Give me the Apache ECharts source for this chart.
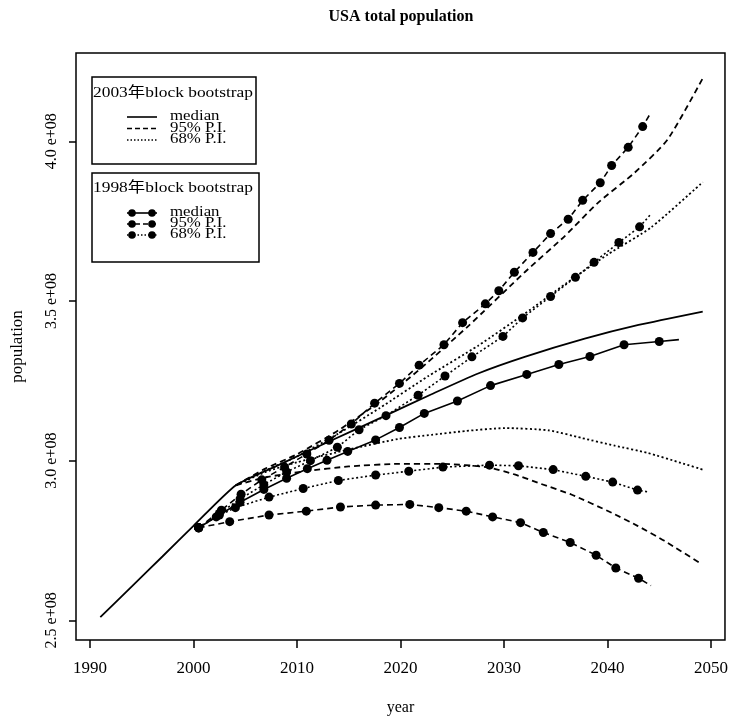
<!DOCTYPE html>
<html>
<head>
<meta charset="utf-8">
<script src="https://cdn.jsdelivr.net/npm/echarts@6/dist/echarts.min.js"></script>
<style>
  html, body { margin: 0; padding: 0; background: #fff; }
  #chart { width: 731px; height: 721px; }
</style>
</head>
<body>
<div id="chart"></div>
<script>
// Population in millions, [year, value]

// 2003 block bootstrap (solid median includes the observed history up to 2004)
const med03 = [[1991,251],[1994,260.5],[1997,270],[2000,279.6],[2004.1,292.3],[2008,298.3],[2013.1,306],[2018.55,314.1],[2023,320.8],[2027.5,327.3],[2032,332.5],[2037.8,338.2],[2043,342.5],[2049.2,346.7]];
const up95_03 = [[2004.1,292.3],[2007,297.6],[2010,302],[2014,309.5],[2018,318.5],[2022,329],[2026.6,342.3],[2032,359],[2035.9,370.4],[2039.1,380.8],[2042.6,390.1],[2045.8,400.5],[2049.2,419.7]];
const lo95_03 = [[2004.1,292.3],[2007,294.8],[2010.85,296.7],[2015,298.2],[2019.8,299],[2024,299],[2028.5,297.9],[2031.1,295.6],[2033.6,292.7],[2036.5,289.4],[2040.4,283.7],[2042.9,279.6],[2045.5,274.9],[2049.1,267.6]];
const up68_03 = [[2004.1,292.3],[2007,297],[2010,301.3],[2014,308.5],[2018,316.5],[2022.7,326.5],[2027.5,336],[2032,346],[2036,355.5],[2040,364.5],[2044.2,373],[2049.2,387.2]];
const lo68_03 = [[2004.1,292.3],[2007,296.5],[2010,299.5],[2015,303.5],[2019.8,306.8],[2023,308.1],[2026.3,309.3],[2030.1,310.2],[2034.3,309.5],[2037.5,307.1],[2040.7,304.7],[2043.9,302.4],[2047.1,299.3],[2049.2,297.2]];

// 1998 block bootstrap (dotted points; the last entry of each is the line end without a dot)
const med98 = [[2000.5,279],[2002.5,283],[2004.5,287],[2006.8,291],[2009,294.5],[2011,297.5],[2012.9,300.1],[2014.9,302.9],[2017.6,306.5],[2019.9,310.4],[2022.3,314.8],[2025.5,318.7],[2028.7,323.5],[2032.2,327],[2035.3,330.1],[2038.3,332.6],[2041.6,336.3],[2045,337.3],[2046.9,337.9]];
const up95_98 = [[2000.5,279],[2002.7,284.5],[2004.6,289.5],[2006.6,294],[2008.8,298],[2010.95,302.1],[2013.1,306.4],[2015.25,311.5],[2017.5,318],[2019.9,324.2],[2021.8,329.9],[2024.2,336.3],[2026,343.2],[2028.2,349.1],[2029.5,353.2],[2031,359],[2032.8,365.2],[2034.5,371.1],[2036.2,375.6],[2037.6,381.5],[2039.3,387],[2040.4,392.4],[2042,398.1],[2043.4,404.6],[2044.2,409]];
const lo95_98 = [[2000.5,279],[2003.5,280.9],[2007.3,283],[2010.9,284.2],[2014.2,285.5],[2017.6,286.1],[2020.9,286.3],[2023.7,285.3],[2026.35,284.2],[2028.9,282.4],[2031.6,280.6],[2033.8,277.5],[2036.4,274.4],[2038.9,270.4],[2040.8,266.4],[2043,263.2],[2044.2,260.9]];
const up68_98 = [[2000.5,279],[2002.5,283.5],[2004.5,288],[2006.8,292.5],[2009,296.5],[2011.3,300],[2013.9,304.2],[2016,309.7],[2018.6,314.1],[2021.7,320.5],[2024.3,326.5],[2026.9,332.5],[2029.9,338.9],[2031.8,344.7],[2034.5,351.4],[2036.9,357.4],[2038.7,362.1],[2041.1,368.3],[2043.1,373.2],[2044.2,377.2]];
const lo68_98 = [[2000.5,279],[2002.2,282.4],[2004.05,285.3],[2007.3,288.6],[2010.6,291.3],[2014,293.8],[2017.6,295.5],[2020.8,296.7],[2024.1,298],[2028.6,298.6],[2031.4,298.4],[2034.75,297.2],[2037.9,295.1],[2040.5,293.3],[2042.9,290.8],[2044,290.2]];

const xTicks = [1990, 2000, 2010, 2020, 2030, 2040, 2050];
const yTicks = [250, 300, 350, 400];

const SERIF = "'Liberation Serif', 'Noto Sans CJK TC', serif";
const DASH = [6, 4];
const DOT = [2, 2.5];

function curve(name, data, type) {
  return {
    name, type: 'line', data, smooth: 0.2, symbol: 'none', silent: true,
    lineStyle: { color: '#000', width: 1.8, type }
  };
}
function dotted(name, data, type) {
  const last = data.length - 1;
  return {
    name, type: 'line', data, silent: true,
    symbol: (v, p) => (p.dataIndex === last ? 'none' : 'circle'),
    symbolSize: 9, showAllSymbol: true,
    itemStyle: { color: '#000', borderWidth: 0 },
    lineStyle: { color: '#000', width: 1.6, type }
  };
}

const chart = echarts.init(document.getElementById('chart'), null, { renderer: 'canvas' });

const legendBox = (x, y, w, h) => ({
  type: 'rect', shape: { x, y, width: w, height: h },
  style: { fill: '#fff', stroke: '#000', lineWidth: 1.5 }, z: 100
});
// legend text set in a wide, low face: the glyphs are stretched horizontally
const legendText = (x, y, text, size, sx) => ({
  type: 'text', x, y, z: 101, scaleX: sx, scaleY: 1,
  style: { text, font: size + 'px ' + SERIF, fill: '#000', textVerticalAlign: 'middle' }
});
const legendLine = (y, dash) => ({
  type: 'line', z: 101, shape: { x1: 127, y1: y, x2: 157, y2: y },
  style: { stroke: '#000', lineWidth: 1.6, lineDash: dash }
});
const legendDot = (x, y) => ({
  type: 'circle', z: 102, shape: { cx: x, cy: y, r: 3.8 }, style: { fill: '#000' }
});

chart.setOption({
  backgroundColor: '#fff',
  animation: false,
  grid: {
    left: 76, right: 5, top: 53, bottom: 78, show: true,
    borderColor: '#000', borderWidth: 1.5, backgroundColor: 'transparent'
  },
  xAxis: {
    type: 'value', min: 1988.65, max: 2051.35,
    name: 'year', nameLocation: 'middle', nameGap: 60,
    nameTextStyle: { fontFamily: SERIF, fontSize: 16, color: '#000' },
    axisLine: { show: false },
    axisTick: { show: true, inside: false, length: 8, customValues: xTicks, lineStyle: { color: '#000', width: 1.5 } },
    axisLabel: {
      customValues: xTicks, margin: 20, fontFamily: SERIF, fontSize: 17, color: '#000',
      formatter: v => String(Math.round(v))
    },
    splitLine: { show: false }
  },
  yAxis: {
    type: 'value', min: 243.86, max: 427.63,
    name: 'population', nameLocation: 'middle', nameGap: 50, nameRotate: 90,
    nameTextStyle: { fontFamily: SERIF, fontSize: 17, color: '#000' },
    axisLine: { show: false },
    axisTick: { show: true, inside: false, length: 7, customValues: yTicks, lineStyle: { color: '#000', width: 1.5 } },
    axisLabel: {
      customValues: yTicks, rotate: 90, margin: 16, fontFamily: SERIF, fontSize: 16, color: '#000',
      formatter: v => (v / 100).toFixed(1) + ' e+08'
    },
    splitLine: { show: false }
  },
  series: [
    curve('2003 median', med03, 'solid'),
    curve('2003 95% upper', up95_03, DASH),
    curve('2003 95% lower', lo95_03, DASH),
    curve('2003 68% upper', up68_03, DOT),
    curve('2003 68% lower', lo68_03, DOT),
    dotted('1998 median', med98, 'solid'),
    dotted('1998 95% upper', up95_98, DASH),
    dotted('1998 95% lower', lo95_98, DASH),
    dotted('1998 68% upper', up68_98, DOT),
    dotted('1998 68% lower', lo68_98, DOT)
  ],
  graphic: [
    {
      type: 'text', x: 401, y: 17, z: 101,
      style: {
        text: 'USA total population', font: 'bold 16px ' + SERIF, fill: '#000',
        textAlign: 'center', textVerticalAlign: 'middle'
      }
    },
    legendBox(92, 77, 164, 87),
    legendText(93, 93, '2003年block bootstrap', 15, 1.16),
    legendLine(117, null), legendText(170, 116.5, 'median', 14.5, 1.16),
    legendLine(128.5, [5, 3]), legendText(170, 128, '95% P.I.', 14.5, 1.16),
    legendLine(140, [1.5, 2]), legendText(170, 139.5, '68% P.I.', 14.5, 1.16),

    legendBox(92, 173, 167, 89),
    legendText(93, 188.5, '1998年block bootstrap', 15, 1.16),
    legendLine(213, null), legendDot(132, 213), legendDot(152, 213), legendText(170, 212.5, 'median', 14.5, 1.16),
    legendLine(224, [5, 3]), legendDot(132, 224), legendDot(152, 224), legendText(170, 223.5, '95% P.I.', 14.5, 1.16),
    legendLine(235, [1.5, 2]), legendDot(132, 235), legendDot(152, 235), legendText(170, 234.5, '68% P.I.', 14.5, 1.16)
  ]
});
</script>
</body>
</html>
